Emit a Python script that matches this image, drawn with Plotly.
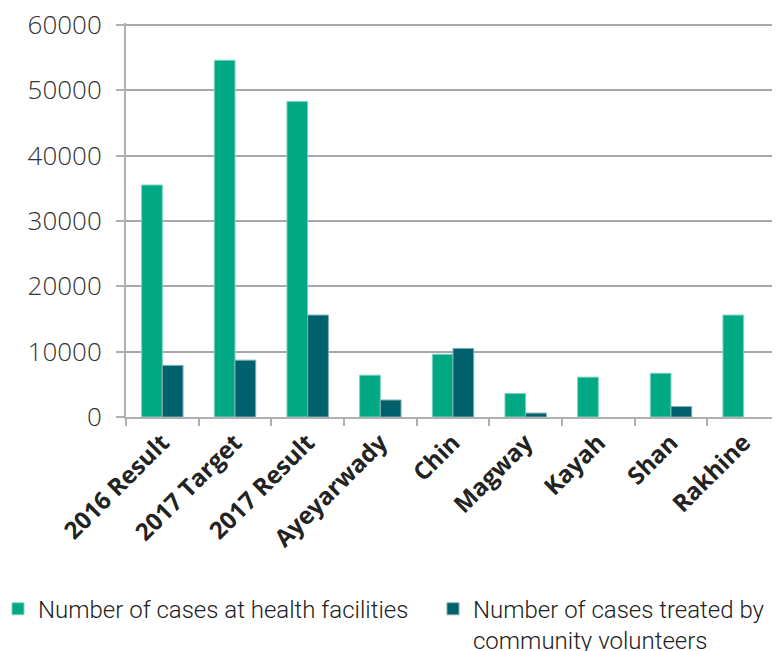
import plotly.graph_objects as go

categories = ['2016 Result', '2017 Target', '2017 Result', 'Ayeyarwady', 'Chin',
              'Magway', 'Kayah', 'Shan', 'Rakhine']
health_facilities = [35500, 54600, 48300, 6400, 9600, 3600, 6100, 6700, 15600]
community_volunteers = [7900, 8700, 15600, 2600, 10500, 600, None, 1600, None]
y_ticks = [0, 10000, 20000, 30000, 40000, 50000, 60000]

fig = go.Figure()
fig.add_trace(go.Bar(x=categories, y=health_facilities,
                     name='Number of cases at health facilities', legend='legend',
                     marker=dict(color='#00a884', line=dict(color='#7fd3c1', width=1))))
fig.add_trace(go.Bar(x=categories, y=community_volunteers,
                     name='Number of cases treated by<br>community volunteers', legend='legend2',
                     marker=dict(color='#00606b', line=dict(color='#7fafb5', width=1))))

# page body has an 8px margin, so the figure is 8px smaller than the window
legend_font = dict(family='Roboto', size=24, weight=300, color='#222222')
fig.update_layout(
    width=772, height=643,
    paper_bgcolor='white', plot_bgcolor='white',
    barmode='group', bargap=0.43, bargroupgap=0,
    margin=dict(l=118, r=0, t=15, b=234, autoexpand=False),
    font=dict(family='Open Sans', color='#333333'),
    showlegend=True,
    legend=dict(xref='paper', yref='container', x=-0.1957, y=0.1,
                yanchor='top', xanchor='left', itemwidth=30, valign='top', font=legend_font),
    legend2=dict(xref='paper', yref='container', x=0.4694, y=0.1,
                 yanchor='top', xanchor='left', itemwidth=30, valign='top', font=legend_font),
)
fig.update_xaxes(type='category', tickson='boundaries', ticks='outside', ticklen=7,
                 tickcolor='#b0b0b3', tickwidth=2, automargin=False,
                 showline=True, linecolor='#b0b0b3', linewidth=2,
                 tickangle=-45,
                 tickfont=dict(family='Open Sans', size=24, weight='bold', color='#222222'))
fig.update_yaxes(range=[0, 60300], tickvals=y_ticks,
                 tickformat='d', automargin=False, ticklabeloverflow='allow',
                 showgrid=True, gridcolor='#a8a8ab', gridwidth=2,
                 showline=True, linecolor='#b0b0b3', linewidth=2,
                 ticks='outside', ticklen=8, tickcolor='#b0b0b3', tickwidth=2,
                 ticklabelstandoff=9, zeroline=False,
                 tickfont=dict(family='Open Sans', size=26, weight=300, color='#333333'))

fig.write_html("out.html")
